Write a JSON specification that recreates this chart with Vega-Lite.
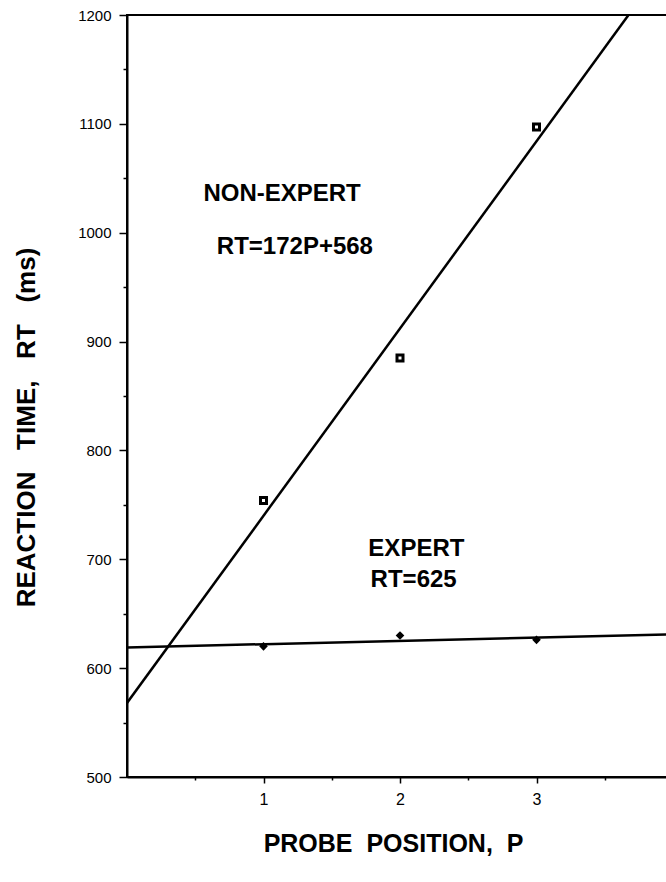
{
  "$schema": "https://vega.github.io/schema/vega-lite/v6.json",
  "width": 546,
  "height": 762,
  "autosize": "none",
  "padding": {"left": 127, "top": 15, "right": 0, "bottom": 105},
  "background": "white",
  "config": {
    "view": {"stroke": "black", "strokeWidth": 2},
    "font": "Liberation Sans",
    "axis": {
      "domainColor": "black",
      "domainWidth": 2,
      "tickColor": "black",
      "tickWidth": 1.5,
      "labelColor": "black",
      "labelFont": "Liberation Sans",
      "labelFontSize": 15,
      "titleFont": "Liberation Sans",
      "titleColor": "black",
      "titleFontWeight": "bold",
      "grid": false
    }
  },
  "datasets": {
    "fits": [
      {"group": "NON-EXPERT", "P": 0, "RT": 568},
      {"group": "NON-EXPERT", "P": 3.674, "RT": 1200},
      {"group": "EXPERT", "P": 0, "RT": 619},
      {"group": "EXPERT", "P": 4, "RT": 631}
    ],
    "obs": [
      {"group": "NON-EXPERT", "P": 1, "RT": 754},
      {"group": "NON-EXPERT", "P": 2, "RT": 885},
      {"group": "NON-EXPERT", "P": 3, "RT": 1097},
      {"group": "EXPERT", "P": 1, "RT": 620},
      {"group": "EXPERT", "P": 2, "RT": 630},
      {"group": "EXPERT", "P": 3, "RT": 626}
    ],
    "notes": [
      {"label": "NON-EXPERT", "P": 1.136, "RT": 1036},
      {"label": "RT=172P+568", "P": 1.23, "RT": 987},
      {"label": "EXPERT", "P": 2.12, "RT": 709},
      {"label": "RT=625", "P": 2.1, "RT": 681}
    ]
  },
  "layer": [
    {
      "data": {"name": "fits"},
      "mark": {"type": "line", "color": "black", "strokeWidth": 2.5, "clip": true},
      "encoding": {
        "x": {
          "field": "P", "type": "quantitative",
          "scale": {"domain": [0, 4], "nice": false, "zero": false},
          "axis": {
            "values": [0.5, 1, 1.5, 2, 2.5, 3, 3.5],
            "labelExpr": "datum.value % 1 === 0 ? '' + datum.value : ''",
            "tickSize": {"condition": {"test": "datum.value % 1 === 0", "value": 6}, "value": 3},
            "labelPadding": 8,
            "labelFontSize": 16,
            "labelFlush": false,
            "title": "PROBE \u00a0POSITION, \u00a0P",
            "titleFontSize": 25,
            "titleBaseline": "middle",
            "titleX": 266,
            "titleY": 66
          }
        },
        "y": {
          "field": "RT", "type": "quantitative",
          "scale": {"domain": [500, 1200], "nice": false, "zero": false},
          "axis": {
            "values": [500, 550, 600, 650, 700, 750, 800, 850, 900, 950, 1000, 1050, 1100, 1150, 1200],
            "labelExpr": "datum.value % 100 === 0 ? '' + datum.value : ''",
            "tickSize": {"condition": {"test": "datum.value % 100 === 0", "value": 8}, "value": 4},
            "labelPadding": 8,
            "labelFlush": false,
            "title": "REACTION \u00a0\u00a0TIME, \u00a0\u00a0RT \u00a0\u00a0(ms)",
            "titleFontSize": 26,
            "titleAngle": 270,
            "titleBaseline": "middle",
            "titleAlign": "center",
            "titleX": -101,
            "titleY": 412
          }
        },
        "detail": {"field": "group"}
      }
    },
    {
      "data": {"name": "obs"},
      "transform": [{"filter": "datum.group === 'NON-EXPERT'"}],
      "mark": {"type": "point", "shape": "square", "filled": false, "fill": "white", "stroke": "black", "strokeWidth": 3, "size": 36, "opacity": 1},
      "encoding": {
        "x": {"field": "P", "type": "quantitative"},
        "y": {"field": "RT", "type": "quantitative"}
      }
    },
    {
      "data": {"name": "obs"},
      "transform": [{"filter": "datum.group === 'EXPERT'"}],
      "mark": {"type": "point", "shape": "diamond", "filled": true, "color": "black", "size": 75, "opacity": 1},
      "encoding": {
        "x": {"field": "P", "type": "quantitative"},
        "y": {"field": "RT", "type": "quantitative"}
      }
    },
    {
      "data": {"name": "notes"},
      "mark": {"type": "text", "font": "Liberation Sans", "fontSize": 24, "fontWeight": "bold", "color": "black", "align": "center", "baseline": "middle"},
      "encoding": {
        "x": {"field": "P", "type": "quantitative"},
        "y": {"field": "RT", "type": "quantitative"},
        "text": {"field": "label"}
      }
    }
  ]
}
